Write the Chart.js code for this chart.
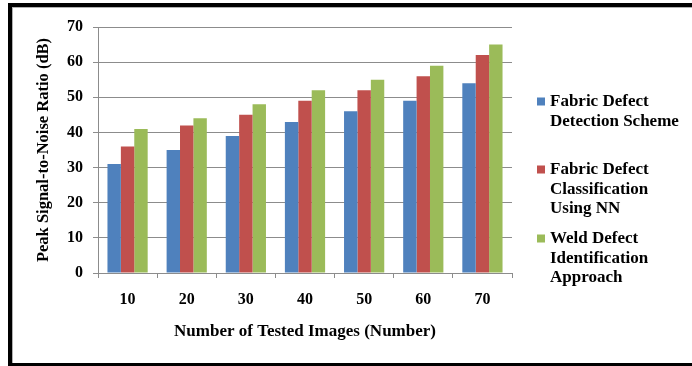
<!DOCTYPE html>
<html>
<head>
<meta charset="utf-8">
<script src="https://cdn.jsdelivr.net/npm/chart.js@4/dist/chart.umd.min.js"></script>
<style>
  html, body { margin: 0; padding: 0; background: #fff; }
  #wrap { position: relative; width: 692px; height: 366px; overflow: hidden; }
  #chart { position: absolute; left: 0; top: 0; }
  #frame {
    position: absolute; left: 8px; top: 3px; width: 700px; height: 356px;
    border-top: 4px solid #000; border-left: 4px solid #000; border-bottom: 3px solid #000;
    box-shadow: inset 1px 1px 0 #b0b0b0;
    pointer-events: none;
  }
</style>
</head>
<body>
<div id="wrap">
  <canvas id="chart" width="692" height="366"></canvas>
  <div id="frame"></div>
</div>
<script>
// Number of tested images
const categories = ['10', '20', '30', '40', '50', '60', '70'];

// Peak signal-to-noise ratio (dB) per method
const fabricDetection = [31, 35, 39, 43, 46, 49, 54];
const fabricClassificationNN = [36, 42, 45, 49, 52, 56, 62];
const weldIdentification = [41, 44, 48, 52, 55, 59, 65];

// Legend labels, one entry per line
const seriesLabels = [
  ['Fabric Defect', 'Detection Scheme'],
  ['Fabric Defect', 'Classification', 'Using NN'],
  ['Weld Defect', 'Identification', 'Approach']
];

const yTitle = 'Peak Signal-to-Noise Ratio (dB)';
const xTitle = 'Number of Tested Images (Number)';

const serif = "'Liberation Serif', 'Times New Roman', serif";
const gridGrey = '#8c8c8c';

// Side legend drawn on the canvas with multi-line labels
const sideLegend = {
  id: 'sideLegend',
  afterDraw(chart) {
    const ctx = chart.ctx;
    const itemTops = [102, 170, 239];
    const lineGap = 19.5;
    ctx.save();
    ctx.font = 'bold 17px ' + serif;
    ctx.textBaseline = 'middle';
    ctx.textAlign = 'left';
    chart.data.datasets.forEach((ds, i) => {
      const y0 = itemTops[i];
      ctx.fillStyle = ds.backgroundColor;
      ctx.fillRect(537, y0 - 4.5, 8, 8);
      ctx.fillStyle = '#000';
      ds.label.forEach((line, j) => {
        ctx.fillText(line, 550, y0 + j * lineGap);
      });
    });
    ctx.restore();
  }
};

const whiteBg = {
  id: 'whiteBg',
  beforeDraw(chart) {
    const ctx = chart.ctx;
    ctx.save();
    ctx.fillStyle = '#fff';
    ctx.fillRect(0, 0, chart.width, chart.height);
    ctx.restore();
  }
};

new Chart(document.getElementById('chart'), {
  type: 'bar',
  data: {
    labels: categories,
    datasets: [
      { label: seriesLabels[0], data: fabricDetection, backgroundColor: '#4f81bd' },
      { label: seriesLabels[1], data: fabricClassificationNN, backgroundColor: '#c0504d' },
      { label: seriesLabels[2], data: weldIdentification, backgroundColor: '#9bbb59' }
    ]
  },
  options: {
    responsive: false,
    animation: false,
    events: [],
    layout: { padding: { left: 0, top: 27, right: 180, bottom: 0 } },
    datasets: { bar: { categoryPercentage: 0.68, barPercentage: 1.0 } },
    plugins: {
      legend: { display: false },
      tooltip: { enabled: false }
    },
    scales: {
      x: {
        grid: { drawOnChartArea: false, drawTicks: true, tickLength: 5, color: gridGrey, offset: true },
        border: { color: gridGrey },
        ticks: { color: '#000', font: { family: serif, size: 16, weight: 'bold' }, padding: 12 },
        title: {
          display: true, text: xTitle, color: '#000',
          font: { family: serif, size: 17, weight: 'bold' },
          padding: { top: 0, bottom: 24 }
        },
        afterFit(scale) { scale.height = 93; }
      },
      y: {
        min: 0, max: 70,
        ticks: { stepSize: 10, color: '#000', font: { family: serif, size: 16, weight: 'bold' }, padding: 10 },
        grid: { color: gridGrey, drawTicks: true, tickLength: 5 },
        border: { color: gridGrey },
        title: {
          display: true, text: yTitle, color: '#000',
          font: { family: serif, size: 16.5, weight: 'bold' },
          padding: { top: 34, bottom: 0 }
        },
        afterFit(scale) { scale.width = 98; }
      }
    }
  },
  plugins: [whiteBg, sideLegend]
});
</script>
</body>
</html>
